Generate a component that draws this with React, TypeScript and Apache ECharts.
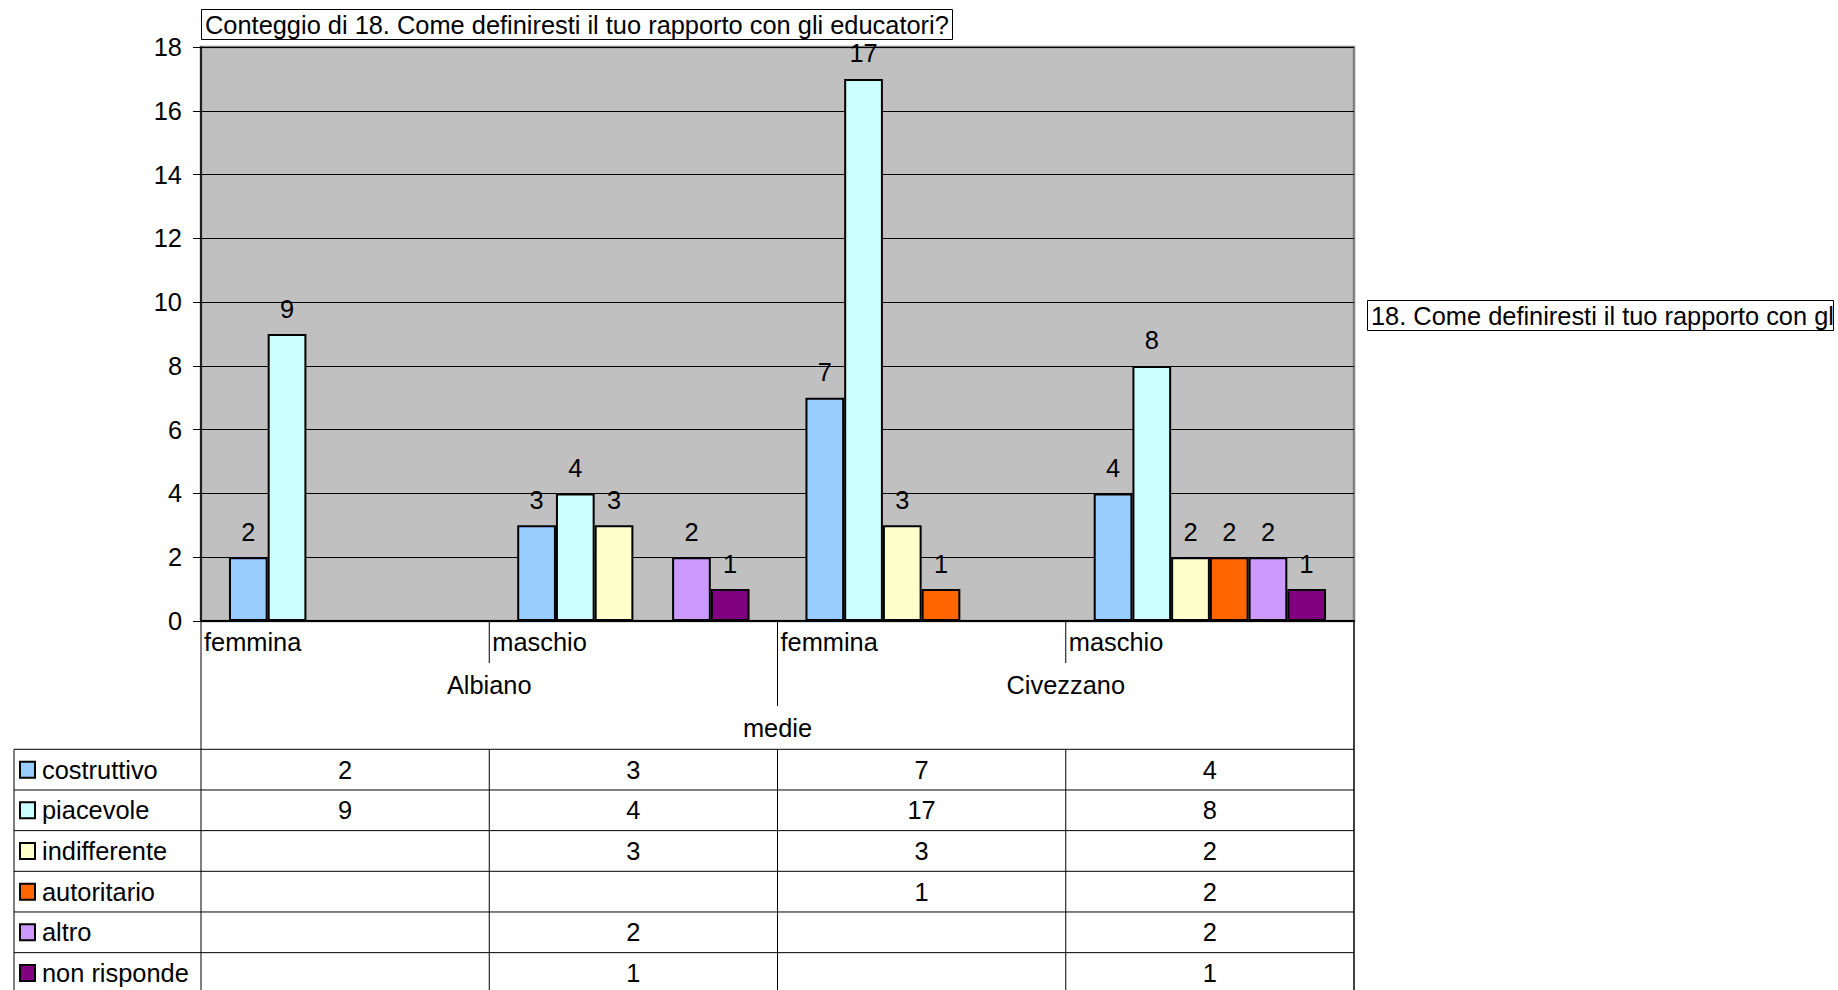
import React, { useEffect, useRef } from "react";
import * as echarts from "echarts";

// ---- data ----
const categories = ["femmina", "maschio", "femmina", "maschio"];
const places = ["Albiano", "Civezzano"];
const schoolLevel = "medie";
const chartTitle = "Conteggio di 18. Come definiresti il tuo rapporto con gli educatori?";
const fieldLabel = "18. Come definiresti il tuo rapporto con gl";
const seriesNames = ["costruttivo", "piacevole", "indifferente", "autoritario", "altro", "non risponde"];
const costruttivo = [2, 3, 7, 4];
const piacevole = [9, 4, 17, 8];
const indifferente = [null, 3, 3, 2];
const autoritario = [null, null, 1, 2];
const altro = [null, 2, null, 2];
const nonRisponde = [null, 1, null, 1];
const seriesValues = [costruttivo, piacevole, indifferente, autoritario, altro, nonRisponde];
const seriesColors = ["#99CCFF", "#CCFFFF", "#FFFFCC", "#FF6600", "#CC99FF", "#800080"];
const yMin = 0;
const yMax = 18;
const yInterval = 2;

const FONT = "'Liberation Sans', Arial, sans-serif";
const FS = 25.4;

// layout (pixels)
const W = 1838;
const H = 990;
const GL = 201;
const GR = 1354;
const GT = 47;
const GB = 621;
const TABLE_LEFT = 14;
const TABLE_TOP = 749.3;
const ROW_H = 40.67;

export default function App() {
  const ref = useRef<HTMLDivElement>(null);
  useEffect(() => {
    document.body.style.margin = "0";
    document.body.style.overflow = "hidden";
    const chart = echarts.init(ref.current!, null, { renderer: "svg" });
    const band = (GR - GL) / categories.length;
    const g: any[] = [];
    const txt = (x: number, y: number, text: string, align: string = "left") => ({
      type: "text",
      x,
      y,
      style: { text, fontSize: FS, fontFamily: FONT, fill: "#000", align, verticalAlign: "middle" },
    });
    const line = (x1: number, y1: number, x2: number, y2: number, w = 1) => ({
      type: "line",
      shape: { x1, y1, x2, y2 },
      style: { stroke: "#000", lineWidth: w },
    });
    // category axis labels
    categories.forEach((c, i) => g.push(txt(GL + i * band + 3, 642, c)));
    // separators
    g.push(line(GL + band, GB, GL + band, 663));
    g.push(line(GL + 3 * band, GB, GL + 3 * band, 663));
    g.push(line(GL + 2 * band, GB, GL + 2 * band, 706));
    g.push(line(GL, GB, GL, H));
    g.push(line(GR, GB, GR, H, 1.5));
    places.forEach((p, i) => g.push(txt(GL + (2 * i + 1) * band, 685, p, "center")));
    g.push(txt(GL + 2 * band, 728, schoolLevel, "center"));
    // table
    for (let k = 0; k <= seriesNames.length; k++) {
      const y = TABLE_TOP + k * ROW_H;
      g.push(line(TABLE_LEFT, y, GR, y));
    }
    g.push(line(TABLE_LEFT, TABLE_TOP, TABLE_LEFT, H));
    for (let i = 1; i < categories.length; i++) {
      g.push(line(GL + i * band, TABLE_TOP, GL + i * band, H));
    }
    seriesNames.forEach((name, r) => {
      const top = TABLE_TOP + r * ROW_H;
      const cy = top + ROW_H / 2;
      g.push({
        type: "rect",
        shape: { x: 20, y: cy - 8, width: 15, height: 16 },
        style: { fill: seriesColors[r], stroke: "#000", lineWidth: 2 },
      });
      g.push(txt(42, cy, name));
      seriesValues[r].forEach((v, i) => {
        if (v !== null) g.push(txt(GL + i * band + band / 2, cy, String(v), "center"));
      });
    });
    // field button on the right
    g.push({
      type: "rect",
      shape: { x: 1367.5, y: 300.5, width: 466, height: 30 },
      style: { fill: "#fff", stroke: "#000", lineWidth: 1 },
    });
    g.push(txt(1371, 316, fieldLabel));

    chart.setOption({
      animation: false,
      title: {
        text: chartTitle,
        left: GL,
        top: 9,
        padding: [3, 4, 3, 4],
        borderColor: "#000",
        borderWidth: 1,
        backgroundColor: "#fff",
        textStyle: { fontSize: FS, fontWeight: "normal", color: "#000", fontFamily: FONT },
      },
      grid: {
        left: GL,
        right: W - GR,
        top: GT,
        bottom: H - GB,
        show: true,
        backgroundColor: "#C0C0C0",
        borderColor: "#808080",
        borderWidth: 2.5,
      },
      xAxis: {
        type: "category",
        data: categories,
        axisLabel: { show: false },
        axisTick: { show: false },
        axisLine: { show: true, lineStyle: { color: "#000", width: 2 } },
        splitLine: { show: false },
      },
      yAxis: {
        type: "value",
        min: yMin,
        max: yMax,
        interval: yInterval,
        axisLine: { show: true, lineStyle: { color: "#000", width: 1.5 } },
        axisTick: { show: true, length: 8, lineStyle: { color: "#000", width: 1 } },
        axisLabel: { fontSize: FS, color: "#000", fontFamily: FONT, margin: 19 },
        splitLine: { show: true, lineStyle: { color: "#000", width: 1 } },
      },
      series: seriesNames.map((name, s) => ({
        type: "bar",
        name,
        data: seriesValues[s],
        barGap: "0%",
        barCategoryGap: "19.4%",
        itemStyle: { color: seriesColors[s], borderColor: "#000", borderWidth: 2 },
        label: {
          show: true,
          position: "top",
          distance: 13,
          fontSize: FS,
          color: "#000",
          fontFamily: FONT,
        },
      })),
      graphic: g,
    });
    return () => chart.dispose();
  }, []);
  return <div ref={ref} style={{ width: W, height: H }} />;
}
